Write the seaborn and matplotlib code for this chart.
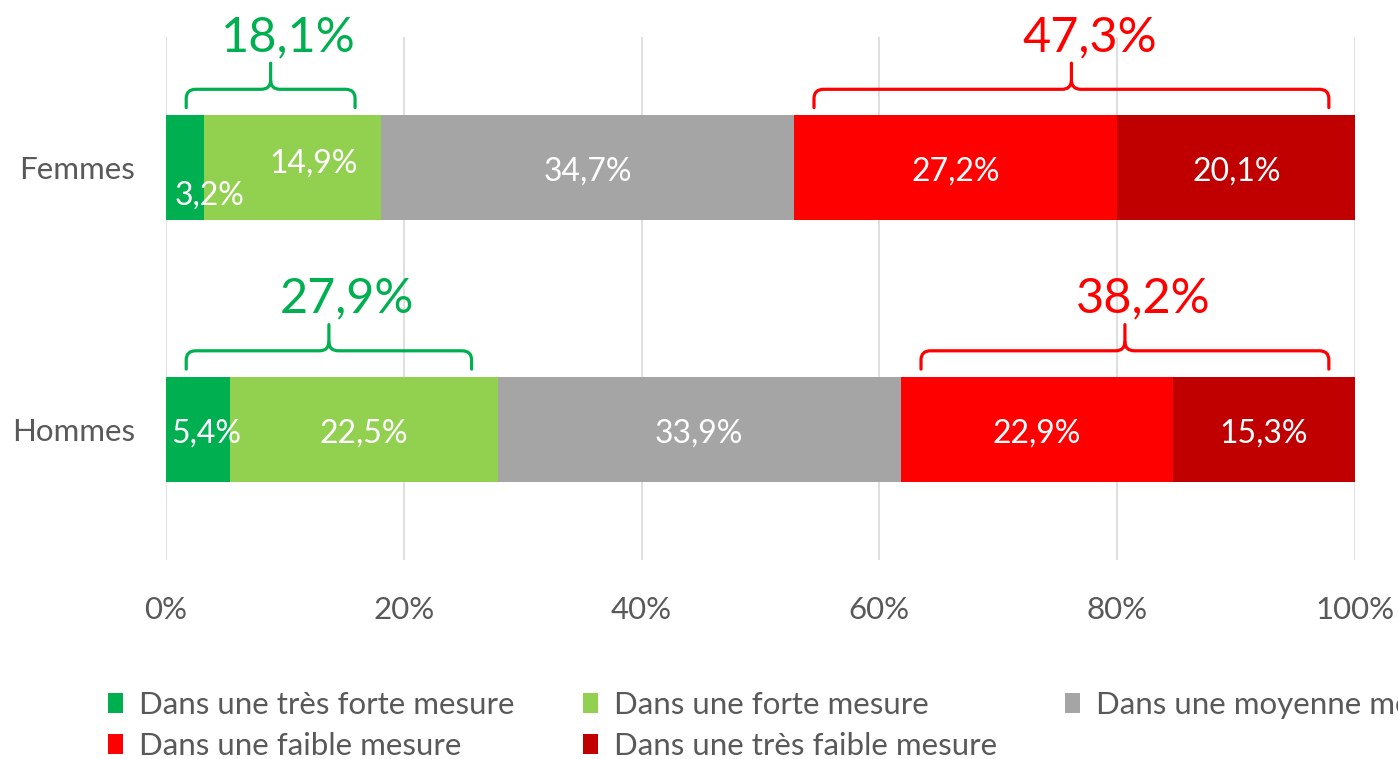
import numpy as np
import pandas as pd
import matplotlib
matplotlib.use("Agg")
import matplotlib.pyplot as plt
from matplotlib.patches import Patch
from matplotlib.path import Path
from matplotlib.patches import PathPatch
import seaborn as sns

# ---------------- data ----------------
groups = ["Femmes", "Hommes"]
categories = ["Dans une très forte mesure", "Dans une forte mesure",
              "Dans une moyenne mesure", "Dans une faible mesure",
              "Dans une très faible mesure"]
femmes = [3.2, 14.9, 34.7, 27.2, 20.1]
hommes = [5.4, 22.5, 33.9, 22.9, 15.3]
colors = ["#00B050", "#92D050", "#A5A5A5", "#FF0000", "#C00000"]
xticks = [0, 20, 40, 60, 80, 100]
xtick_labels = ["0%", "20%", "40%", "60%", "80%", "100%"]

# groups for braces: (first index, last index, colour)
brace_groups = [(0, 1, "#00B050"), (3, 4, "#FF0000")]

# ---------------- style ----------------
sns.set_theme(style="white")
plt.rcParams["font.family"] = ["Lato", "DejaVu Sans"]
TXT = "#595959"

values = np.array([femmes, hommes])
cum = values.cumsum(axis=1)

fig = plt.figure(figsize=(13.98, 7.59), dpi=100)
ax = fig.add_axes([166 / 1398, 1 - 560 / 759, (1355 - 166) / 1398, (560 - 37) / 759])

# stacked bars: draw cumulative totals from the widest to the narrowest
for i in range(len(categories) - 1, -1, -1):
    df = pd.DataFrame({"group": groups, "value": cum[:, i]})
    sns.barplot(data=df, x="value", y="group", orient="h", color=colors[i],
                saturation=1, width=0.4, ax=ax, linewidth=0, zorder=2)

ax.set_xlim(0, 100)
ax.set_ylim(1.5, -0.5)
ax.set_xticks(xticks)
ax.set_xticklabels(xtick_labels)
ax.set_xlabel("")
ax.set_ylabel("")
ax.xaxis.grid(True, color="#D9D9D9", linewidth=1.2, zorder=0)
ax.set_axisbelow(True)
for s in ax.spines.values():
    s.set_visible(False)
ax.tick_params(axis="x", length=0, pad=26, labelsize=22.5, labelcolor=TXT)
ax.tick_params(axis="y", length=0, pad=22, labelsize=22.5, labelcolor=TXT)

# segment labels
label_offsets = {(0, 0): (2.1, 0.09), (0, 1): (1.8, -0.03), (1, 0): (0.7, 0.0)}
for g in range(len(groups)):
    for i in range(len(categories)):
        start = cum[g, i] - values[g, i]
        xc = start + values[g, i] / 2
        dx, dy = label_offsets.get((g, i), (0.0, 0.0))
        ax.text(xc + dx, g + dy + 0.015, f"{values[g, i]:.1f}".replace(".", ",") + "%",
                ha="center", va="center", color="white", fontsize=23, zorder=5)


def brace(ax, x0, x1, ybase, color):
    """curly brace above a bar (y axis inverted: smaller y is higher)"""
    tip = ybase - 0.03          # bottom of the brace legs
    h = ybase - 0.10            # horizontal line
    top = ybase - 0.20          # centre tip
    rx, ry = 0.8, 0.035
    xc = (x0 + x1) / 2
    verts = [
        (x0, tip), (x0, h + ry), (x0, h), (x0 + rx, h),
        (xc - rx, h), (xc, h), (xc, h - ry), (xc, top),
    ]
    codes = [Path.MOVETO, Path.LINETO, Path.CURVE3, Path.CURVE3,
             Path.LINETO, Path.CURVE3, Path.CURVE3, Path.LINETO]
    verts2 = [
        (xc, h - ry), (xc, h), (xc + rx, h),
        (x1 - rx, h), (x1, h), (x1, h + ry), (x1, tip),
    ]
    codes2 = [Path.MOVETO, Path.CURVE3, Path.CURVE3,
              Path.LINETO, Path.CURVE3, Path.CURVE3, Path.LINETO]
    for v, c in ((verts, codes), (verts2, codes2)):
        ax.add_patch(PathPatch(Path(v, c), fill=False, edgecolor=color,
                               linewidth=2.3, clip_on=False, zorder=4,
                               capstyle="round", joinstyle="round"))
    return xc


for g in range(len(groups)):
    ybase = g - 0.2
    for a, b, col in brace_groups:
        start = cum[g, a] - values[g, a]
        end = min(cum[g, b], 100)
        x0 = start + 1.7
        x1 = end - 2.2
        xc = brace(ax, x0, x1, ybase, col)
        total = values[g, a:b + 1].sum()
        ax.text(xc + 1.5, ybase - 0.30, f"{total:.1f}".replace(".", ",") + "%",
                ha="center", va="center", color=col, fontsize=35, clip_on=False)

# legend (row-major order as in the original)
handles = [Patch(facecolor=c, edgecolor="none", label=l) for c, l in zip(colors, categories)]
order = [0, 3, 1, 4, 2]
fig.legend([handles[i] for i in order], [categories[i] for i in order],
           loc="upper left", bbox_to_anchor=(108 / 1398, 1 - 691 / 759),
           ncol=3, frameon=False, fontsize=22.5, labelcolor=TXT,
           handlelength=0.48, handleheight=0.62, handletextpad=0.5,
           columnspacing=2.2, labelspacing=0.42, borderpad=0, borderaxespad=0)

fig.savefig("out.png", dpi=100)
